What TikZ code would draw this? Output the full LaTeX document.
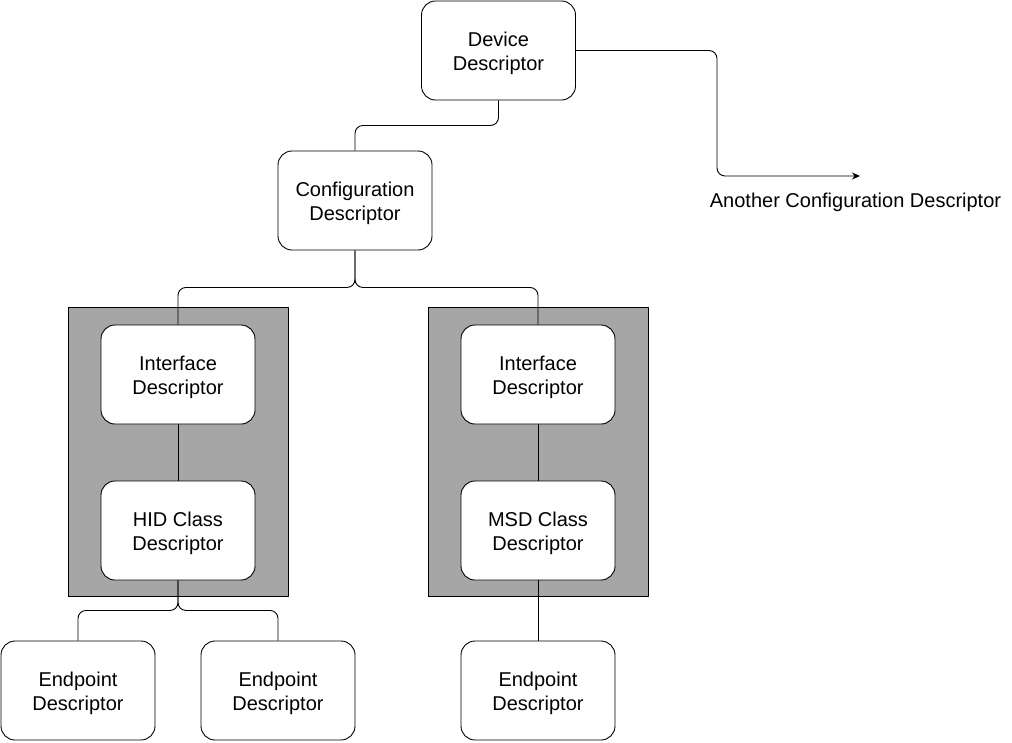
\documentclass[tikz,border=0pt]{standalone}
\usepackage{fontspec}
\setmainfont{Liberation Sans}
\usetikzlibrary{arrows.meta}
\definecolor{grayfill}{HTML}{A6A6A6}
\begin{document}
\begin{tikzpicture}[x=1pt,y=-1pt,
  desc/.style={draw=black, fill=white, rounded corners=14pt, minimum width=154pt, minimum height=99pt, align=center, inner sep=0pt, text height=44pt, text depth=5pt, font=\fontsize{20}{24}\selectfont, line width=0.9pt},
  grp/.style={draw=black, fill=grayfill, minimum width=220pt, minimum height=289pt, inner sep=0pt, line width=0.8pt},
  conn/.style={draw=black, line width=0.9pt, rounded corners=8pt}]
\useasboundingbox (0,0) rectangle (1012,742);
\node[grp] (gl) at (178,451.5) {};
\node[grp] (gr) at (538,451.5) {};
\node[desc] (dev) at (498.5,50.5) {Device\\Descriptor};
\node[desc] (cfg) at (355,200.5) {Configuration\\Descriptor};
\node[desc] (ifl) at (178,374.5) {Interface\\Descriptor};
\node[desc] (hid) at (178,530.5) {HID Class\\Descriptor};
\node[desc] (ifr) at (538,374.5) {Interface\\Descriptor};
\node[desc] (msd) at (538,530.5) {MSD Class\\Descriptor};
\node[desc] (ep1) at (78,690.5) {Endpoint\\Descriptor};
\node[desc] (ep2) at (278,690.5) {Endpoint\\Descriptor};
\node[desc] (ep3) at (538,690.5) {Endpoint\\Descriptor};
\node[font=\fontsize{20}{24}\selectfont, inner sep=0pt] (another) at (855.5,202.5) {Another Configuration Descriptor};
\coordinate (tip) at (860,176);
\draw[conn] (dev.south) -- ++(0,25) -| (cfg.north);
\draw[conn] (cfg.south) -- ++(0,37) -| (ifl.north);
\draw[conn] (cfg.south) -- ++(0,37) -| (ifr.north);
\draw[conn] (ifl.south) -- (hid.north);
\draw[conn] (ifr.south) -- (msd.north);
\draw[conn] (hid.south) -- ++(0,30) -| (ep1.north);
\draw[conn] (hid.south) -- ++(0,30) -| (ep2.north);
\draw[conn] (msd.south) -- (ep3.north);
\draw[conn, -{Stealth[length=8pt,width=7pt]}] (dev.east) -- (717,50.5) -- (717,176) -- (tip);
\end{tikzpicture}
\end{document}
